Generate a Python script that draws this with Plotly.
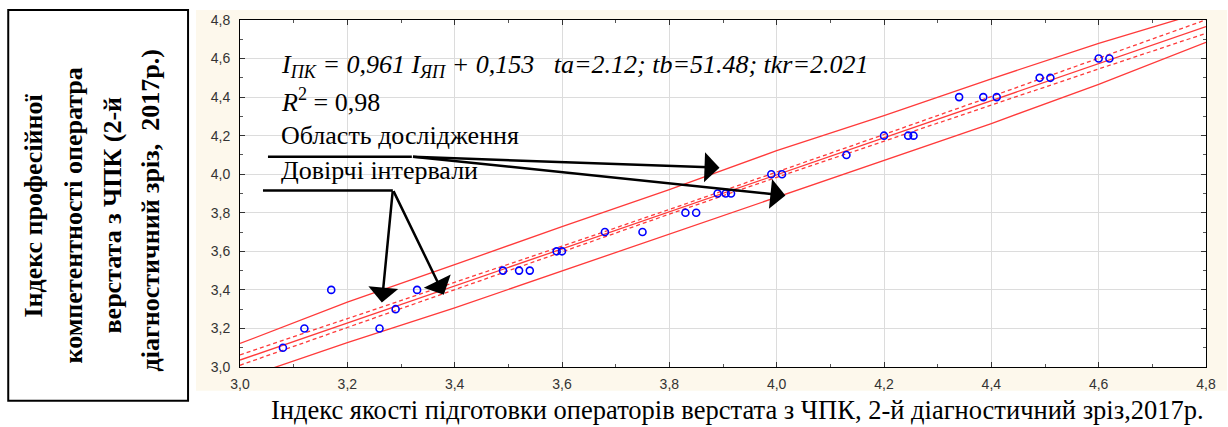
import plotly.graph_objects as go

# ---------------- data ----------------
x_vals = [3.08, 3.12, 3.17, 3.26, 3.29, 3.33, 3.49, 3.52, 3.54, 3.59, 3.60,
          3.68, 3.75, 3.83, 3.85, 3.89, 3.905, 3.915, 3.99, 4.01, 4.13,
          4.20, 4.245, 4.255, 4.34, 4.385, 4.41, 4.49, 4.51, 4.60, 4.62]
y_vals = [3.1, 3.2, 3.4, 3.2, 3.3, 3.4, 3.5, 3.5, 3.5, 3.6, 3.6,
          3.7, 3.7, 3.8, 3.8, 3.9, 3.9, 3.9, 4.0, 4.0, 4.1,
          4.2, 4.2, 4.2, 4.4, 4.4, 4.4, 4.5, 4.5, 4.6, 4.6]

fit_x = [3.0, 4.8]
fit_y = [3.036, 4.766]

band_x = [3.0, 3.2, 3.4, 3.6, 3.8, 4.0, 4.2, 4.4, 4.6, 4.8]
conf_upper = [3.063, 3.250, 3.438, 3.627, 3.817, 4.010, 4.206, 4.403, 4.602, 4.801]
conf_lower = [3.009, 3.206, 3.402, 3.599, 3.793, 3.984, 4.172, 4.359, 4.546, 4.731]
outer_upper = [3.122, 3.336, 3.531, 3.728, 3.920, 4.122, 4.304, 4.495, 4.679, 4.846]
outer_lower = [2.936, 3.127, 3.307, 3.498, 3.690, 3.877, 4.071, 4.263, 4.466, 4.684]

tick_vals = [3.0, 3.2, 3.4, 3.6, 3.8, 4.0, 4.2, 4.4, 4.6, 4.8]
tick_text = ["3,0", "3,2", "3,4", "3,6", "3,8", "4,0", "4,2", "4,4", "4,6", "4,8"]

y_label_lines = ["Індекс професійної",
                 "компетентності оператра",
                 "верстата з ЧПК (2-й",
                 "діагностичний зріз,\u00a0\u00a02017р.)"]
x_title = "Індекс якості підготовки операторів верстата з ЧПК, 2-й діагностичний зріз,2017р."
eq_text = ("<i>I</i><sub><i>ПК</i></sub><i> = 0,961 I</i><sub><i>ЯП</i></sub>"
           "<i> + 0,153\u00a0\u00a0\u00a0ta=2.12; tb=51.48; tkr=2.021</i>")
r2_text = "<i>R</i><sup>2</sup> = 0,98"
label_region = "Область дослідження"
label_conf = "Довірчі інтервали"

# ---------------- layout geometry (pixels) ----------------
W, H = 1228, 427
L, R, T, B = 240, 1207, 17, 367


def px(x):
    return (x - L) / (R - L)


def py(y):
    return (B - y) / (B - T)


RED = "#FF3A3A"
SERIF = "'Liberation Serif', 'Times New Roman', serif"
SANS = "'Liberation Sans', Arial, sans-serif"

fig = go.Figure()

fig.add_trace(go.Scatter(x=band_x, y=outer_upper, mode="lines",
                         line=dict(color=RED, width=1.3), hoverinfo="skip"))
fig.add_trace(go.Scatter(x=band_x, y=outer_lower, mode="lines",
                         line=dict(color=RED, width=1.3), hoverinfo="skip"))
fig.add_trace(go.Scatter(x=band_x, y=conf_upper, mode="lines",
                         line=dict(color=RED, width=1.3, dash="4px,3px"), hoverinfo="skip"))
fig.add_trace(go.Scatter(x=band_x, y=conf_lower, mode="lines",
                         line=dict(color=RED, width=1.3, dash="4px,3px"), hoverinfo="skip"))
fig.add_trace(go.Scatter(x=fit_x, y=fit_y, mode="lines",
                         line=dict(color=RED, width=1.3), hoverinfo="skip"))
fig.add_trace(go.Scatter(x=x_vals, y=y_vals, mode="markers",
                         marker=dict(symbol="circle-open", size=7,
                                     color="#0000FF", line=dict(width=1.6, color="#0000FF"))))

axis_common = dict(
    range=[3.0, 4.8], tickvals=tick_vals, ticktext=tick_text,
    showgrid=True, gridcolor="#DCDCDC", gridwidth=1,
    showline=True, linecolor="#000000", linewidth=1, mirror="allticks",
    ticks="inside", ticklen=5, tickcolor="#333333",
    minor=dict(ticks="inside", ticklen=3, dtick=0.1, tickcolor="#555555", showgrid=False),
    tickfont=dict(family=SANS, size=14, color="#333333"),
    zeroline=False, fixedrange=True,
)

fig.update_layout(
    width=W, height=H,
    margin=dict(l=L, r=W - R, t=T, b=H - B, pad=0),
    paper_bgcolor="white", plot_bgcolor="white",
    showlegend=False,
    xaxis=dict(**axis_common, ticklabelstandoff=4),
    yaxis=dict(**axis_common, ticklabelstandoff=6),
)

shapes = [
    # cream background behind the chart
    dict(type="rect", xref="paper", yref="paper", layer="below",
         x0=px(196), x1=px(1228), y0=py(391), y1=py(7),
         fillcolor="#FDF8EC", line=dict(width=0)),
    # white plotting area
    dict(type="rect", xref="paper", yref="paper", layer="below",
         x0=0, x1=1, y0=0, y1=1, fillcolor="white", line=dict(width=0)),
    # box for the y label
    dict(type="rect", xref="paper", yref="paper", layer="above",
         x0=px(8), x1=px(188), y0=py(401), y1=py(7),
         fillcolor="rgba(0,0,0,0)", line=dict(color="black", width=2)),
    # lines under the text labels
    dict(type="line", xref="paper", yref="paper", layer="above",
         x0=px(268), x1=px(412), y0=py(155), y1=py(155),
         line=dict(color="black", width=2.5)),
    dict(type="line", xref="paper", yref="paper", layer="above",
         x0=px(263), x1=px(393), y0=py(189), y1=py(189),
         line=dict(color="black", width=2.5)),
]
fig.update_layout(shapes=shapes)

annotations = []
# y label lines (rotated)
label_cols = [33, 73, 112, 150]
label_mid = [204, 214, 214, 209]
for txt, cx, cy in zip(y_label_lines, label_cols, label_mid):
    annotations.append(dict(xref="paper", yref="paper", x=px(cx), y=py(cy),
                            text="<b>" + txt + "</b>", textangle=-90, showarrow=False,
                            xanchor="center", yanchor="middle",
                            font=dict(family=SERIF, size=26, color="black")))

# x title
annotations.append(dict(xref="paper", yref="paper", x=px(738), y=py(410),
                        text=x_title, showarrow=False, xanchor="center", yanchor="middle",
                        font=dict(family=SERIF, size=26.5, color="black")))

# texts inside the plot
for txt, cy in [(eq_text, 63), (r2_text, 98), (label_region, 134), (label_conf, 169)]:
    annotations.append(dict(xref="paper", yref="paper", x=px(279), y=py(cy),
                            text=txt, showarrow=False, xanchor="left", yanchor="middle",
                            font=dict(family=SERIF, size=26, color="black")))

# arrows: (tail_x, tail_y, tip_x, tip_y)
arrows = [(412, 155, 720, 166), (412, 155, 786, 194),
          (393, 189, 382, 302), (393, 189, 444, 294)]
for sx, sy, tx, ty in arrows:
    annotations.append(dict(xref="paper", yref="paper", x=px(tx), y=py(ty),
                            ax=sx - tx, ay=sy - ty, axref="pixel", ayref="pixel",
                            text="", showarrow=True, arrowhead=1, arrowsize=2.0,
                            arrowwidth=2.5, arrowcolor="black", standoff=0))
fig.update_layout(annotations=annotations)

fig.write_html(
    "out.html",
    config={"displayModeBar": False, "staticPlot": True},
    post_script="document.body.style.margin='0';document.body.style.padding='0';"
                "document.documentElement.style.overflow='hidden';",
)
